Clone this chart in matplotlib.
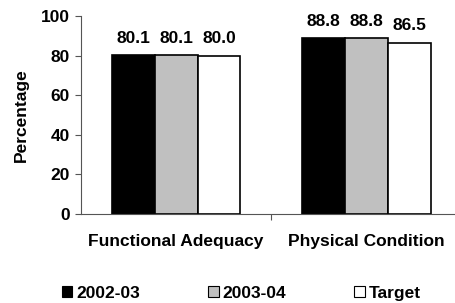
import numpy as np
import matplotlib.pyplot as plt

# ---------------- DATA ----------------
categories = ["Functional Adequacy", "Physical Condition"]
series_names = ["2002-03", "2003-04", "Target"]
values_0203 = [80.1, 88.8]
values_0304 = [80.1, 88.8]
values_target = [80.0, 86.5]
value_labels = [["80.1", "88.8"], ["80.1", "88.8"], ["80.0", "86.5"]]
colors = ["black", "#c0c0c0", "white"]

plt.rcParams["font.family"] = ["Liberation Sans", "DejaVu Sans"]
plt.rcParams["font.weight"] = "bold"

fig = plt.figure(figsize=(4.56, 3.03), dpi=100)
ax = fig.add_axes([81 / 456, 1 - 214 / 303, (456 - 81) / 456, (214 - 16) / 303])

x = np.arange(len(categories))
width = 0.225
all_vals = [values_0203, values_0304, values_target]

for i, (vals, name, col) in enumerate(zip(all_vals, series_names, colors)):
    pos = x + (i - 1) * width
    ax.bar(pos, vals, width, color=col, edgecolor="black", linewidth=1.2, label=name)
    for p, v, lab in zip(pos, vals, value_labels[i]):
        ax.text(p, v + 4.8, lab, ha="center", va="bottom", fontsize=12.5, fontweight="bold")

ax.set_xlim(-0.5, 1.47)
ax.set_ylim(0, 100)
ax.set_yticks([0, 20, 40, 60, 80, 100])
ax.set_xticks([0.5])
ax.set_xticklabels([""])
ax.tick_params(axis="x", length=4, color="#555555")
ax.tick_params(axis="y", length=4, color="#555555", labelsize=12.5, pad=4)
for lab in ax.get_yticklabels():
    lab.set_fontweight("bold")

for i, c in enumerate(categories):
    ax.text(x[i], -10, c, ha="center", va="top", fontsize=12.5, fontweight="bold")

ax.spines["top"].set_visible(False)
ax.spines["right"].set_visible(False)
ax.spines["left"].set_color("#555555")
ax.spines["bottom"].set_color("#555555")

ax.set_ylabel("Percentage", fontsize=12.5, fontweight="bold", labelpad=9)

leg = fig.legend(loc="lower center", bbox_to_anchor=(0.529, -0.045), ncol=3, frameon=False,
                 handlelength=0.6, handleheight=0.6, handletextpad=0.2,
                 columnspacing=3.95, prop={"weight": "bold", "size": 12.5})
for h in leg.legend_handles:
    h.set_linewidth(0.8)

fig.savefig("out.png", dpi=100)
